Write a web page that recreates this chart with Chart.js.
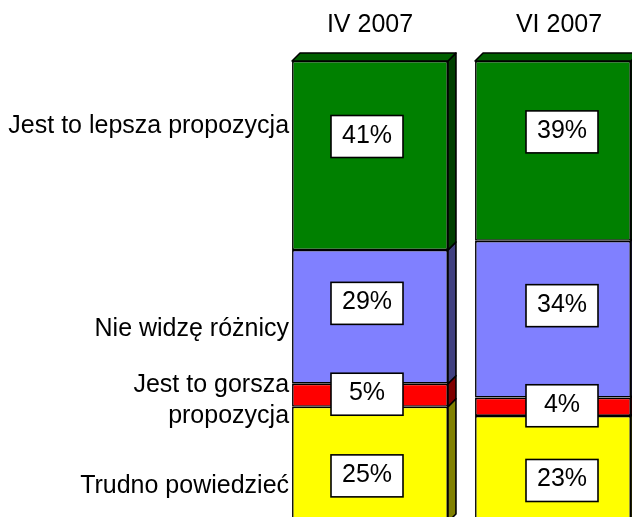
<!DOCTYPE html>
<html lang="pl">
<head>
<meta charset="utf-8">
<title>Ocena propozycji</title>
<script src="https://cdn.jsdelivr.net/npm/chart.js@4.4.1/dist/chart.umd.min.js"></script>
<style>
  html, body { margin: 0; padding: 0; background: #fff; overflow: hidden; }
  #wrap { width: 632px; height: 517px; overflow: hidden; }
  #chart { display: block; }
</style>
</head>
<body>
<div id="wrap"><canvas id="chart" width="660" height="523"></canvas></div>
<script>
// Dane (kolejność od dołu słupka)
const categories = ["IV 2007", "VI 2007"];
const answers = ["Trudno powiedzieć", ["Jest to gorsza", "propozycja"], "Nie widzę różnicy", "Jest to lepsza propozycja"];
const trudno = [25, 23];
const gorsza = [5, 4];
const bezRoznicy = [29, 34];
const lepsza = [41, 39];

const FONT = '25px "Liberation Sans", Arial, sans-serif';
const DEPTH = 8;

// kolory przodu i boku, przesunięcia etykiet
const styles = [
  { front: "#ffff00", side: "#808000", labelDy: 11.5, sideDy: 28.8 },
  { front: "#ff0000", side: "#800000", labelDy: -1, sideDy: -2.8 },
  { front: "#8080ff", side: "#404080", labelDy: -13.5, sideDy: 19 },
  { front: "#008000", side: "#004000", top: "#006000", labelDy: -19, sideDy: -22.5 }
];
const boxDx = [-3, 9];
const titleDx = [0, 6];

// Efekt 3D: bok i góra słupka
const bar3d = {
  id: "bar3d",
  afterDatasetsDraw(chart) {
    const ctx = chart.ctx;
    const last = chart.data.datasets.length - 1;
    ctx.save();
    ctx.lineWidth = 1.6;
    ctx.strokeStyle = "#000";
    ctx.lineJoin = "round";
    chart.data.datasets.forEach((ds, i) => {
      const st = styles[i];
      chart.getDatasetMeta(i).data.forEach(bar => {
        const left = bar.x - bar.width / 2;
        const right = bar.x + bar.width / 2;
        const top = Math.min(bar.y, bar.base);
        const bottom = Math.max(bar.y, bar.base);

        ctx.beginPath();
        ctx.moveTo(right, top);
        ctx.lineTo(right + DEPTH, top - DEPTH);
        ctx.lineTo(right + DEPTH, bottom - DEPTH);
        ctx.lineTo(right, bottom);
        ctx.closePath();
        ctx.fillStyle = st.side;
        ctx.fill();
        ctx.stroke();

        if (i === last) {
          ctx.beginPath();
          ctx.moveTo(left, top);
          ctx.lineTo(left + DEPTH, top - DEPTH);
          ctx.lineTo(right + DEPTH, top - DEPTH);
          ctx.lineTo(right, top);
          ctx.closePath();
          ctx.fillStyle = st.top;
          ctx.fill();
          ctx.stroke();
        }
      });
    });
    ctx.restore();
  }
};

// Etykiety: wartości w ramkach, opisy odpowiedzi, nagłówki kolumn
const labels = {
  id: "labels",
  afterDraw(chart) {
    const ctx = chart.ctx;
    ctx.save();
    ctx.font = FONT;
    ctx.fillStyle = "#000";
    ctx.strokeStyle = "#000";
    ctx.lineWidth = 1.6;

    chart.data.datasets.forEach((ds, i) => {
      const st = styles[i];
      chart.getDatasetMeta(i).data.forEach((bar, j) => {
        const cx = bar.x + boxDx[j];
        const cy = (bar.y + bar.base) / 2 + st.labelDy;
        ctx.fillStyle = "#fff";
        ctx.fillRect(cx - 36, cy - 21, 72, 42);
        ctx.strokeRect(cx - 36, cy - 21, 72, 42);
        ctx.fillStyle = "#000";
        ctx.textAlign = "center";
        ctx.textBaseline = "alphabetic";
        ctx.fillText(ds.data[j] + "%", cx, cy + 6);
      });

      // opis odpowiedzi przy pierwszym słupku
      const first = chart.getDatasetMeta(i).data[0];
      const lines = [].concat(answers[i]);
      const x = first.x - first.width / 2 - 3;
      const y = (first.y + first.base) / 2 + st.sideDy;
      ctx.textAlign = "right";
      lines.forEach((line, k) => ctx.fillText(line, x, y + k * 30.6));
    });

    ctx.textAlign = "center";
    chart.getDatasetMeta(0).data.forEach((bar, j) => {
      ctx.fillText(categories[j], bar.x + titleDx[j], 32);
    });
    ctx.restore();
  }
};

const datasets = [trudno, gorsza, bezRoznicy, lepsza].map((values, i) => ({
  label: [].concat(answers[i]).join(" "),
  data: values,
  backgroundColor: styles[i].front,
  borderColor: "#000",
  borderWidth: 1.6,
  borderSkipped: false
}));

new Chart(document.getElementById("chart"), {
  type: "bar",
  data: { labels: categories, datasets },
  options: {
    responsive: false,
    animation: false,
    barPercentage: 0.852,
    categoryPercentage: 1,
    layout: { padding: { left: 278.5, right: 15.5, top: 61, bottom: 1 } },
    scales: {
      x: { stacked: true, display: false },
      y: { stacked: true, display: false, min: 0, max: 100 }
    },
    plugins: { legend: { display: false }, tooltip: { enabled: false } }
  },
  plugins: [bar3d, labels]
});
</script>
</body>
</html>
